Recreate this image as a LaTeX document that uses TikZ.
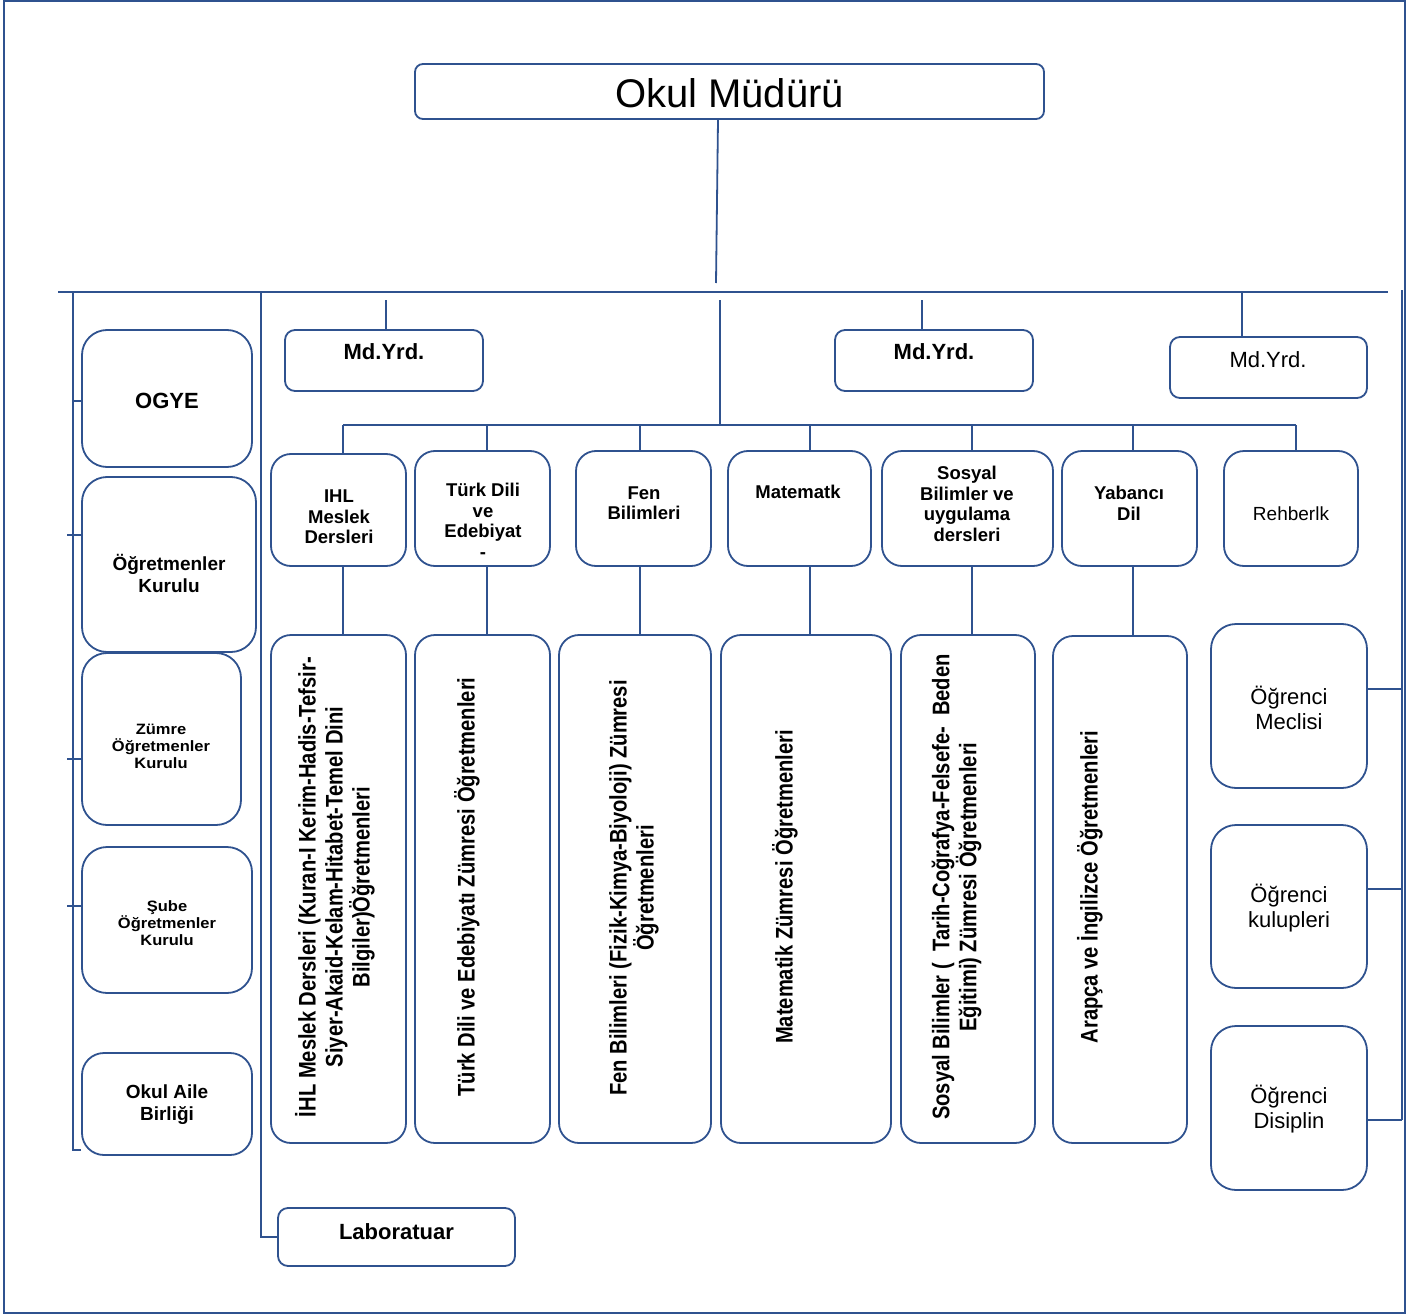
\documentclass[tikz,border=0pt]{standalone}
\usepackage{fontspec}
\setmainfont{Liberation Sans}
\newfontfamily\condfont{Liberation Sans}[FakeStretch=0.84]
\newfontfamily\widefont{Liberation Sans}[FakeStretch=1.1]
\definecolor{ln}{HTML}{2F528F}
\begin{document}
\begin{tikzpicture}[x=1pt,y=-1pt,
  rbox/.style={draw=ln, line width=1.8pt, rounded corners=#1, inner sep=0pt, fill=white},
  rbox/.default=20pt,
  lbl/.style={inner sep=0pt, align=center, text=black},
  conn/.style={draw=ln, line width=1.8pt},
  big/.style={font=\fontsize{40}{46}\selectfont},
  hb/.style={font=\bfseries\fontsize{22}{25}\selectfont},
  hr/.style={font=\fontsize{22}{25}\selectfont},
  mb/.style={font=\bfseries\fontsize{19}{22}\selectfont},
  wb/.style={font=\widefont\bfseries\fontsize{15}{17}\selectfont},
  db/.style={font=\bfseries\fontsize{18.5}{20.5}\selectfont},
  dr/.style={font=\fontsize{19}{22}\selectfont},
  vb/.style={rotate=90, font=\condfont\bfseries\fontsize{24}{27}\selectfont},
]
\useasboundingbox (0,0) rectangle (1419,1316);
\node[draw=ln, line width=1.8pt, inner sep=0pt, minimum width=1401pt, minimum height=1312pt] (frame) at (704.5,657) {};

% ---- top
\node[rbox=8pt, minimum width=629pt, minimum height=55pt] (mud) at (729.5,91.5) {};
\node[lbl, big] (mudT) at (729.5,93) {Okul Müdürü};

% bus coordinates
\coordinate (busL) at (58,292);
\coordinate (busR) at (1388,292);
\coordinate (mudEnd) at (716,283);
\coordinate (v1top) at (73,292);
\coordinate (v1bot) at (73,1150);
\coordinate (v2top) at (261,292);
\coordinate (v2bot) at (261,1237);
\coordinate (m1top) at (386,300);
\coordinate (m2top) at (922,300);
\coordinate (m3top) at (1242,292);
\coordinate (ctop) at (720,300);
\coordinate (cbot) at (720,425);
\coordinate (dL) at (343,425);
\coordinate (dR) at (1296,425);
\coordinate (rtop) at (1402,290);
\coordinate (rbot) at (1402,1120);

% ---- Md.Yrd
\node[rbox=10pt, minimum width=198pt, minimum height=61pt] (m1) at (384,360.5) {};
\node[lbl, hb] (m1T) at (384,352) {Md.Yrd.};
\node[rbox=10pt, minimum width=198pt, minimum height=61pt] (m2) at (934,360.5) {};
\node[lbl, hb] (m2T) at (934,352) {Md.Yrd.};
\node[rbox=10pt, minimum width=197pt, minimum height=61pt] (m3) at (1268.5,367.5) {};
\node[lbl, hr] (m3T) at (1268,360) {Md.Yrd.};

% ---- left column
\node[rbox=25pt, minimum width=170pt, minimum height=137pt] (ogye) at (167,398.5) {};
\node[lbl, hb] (ogyeT) at (167,401) {OGYE};
\node[rbox=25pt, minimum width=174pt, minimum height=175pt] (ok) at (169,564.5) {};
\node[lbl, mb] (okT) at (169,573) {Öğretmenler\\Kurulu};
\node[rbox=25pt, minimum width=159pt, minimum height=172pt] (zok) at (161.5,739) {};
\node[lbl, wb] (zokT) at (161,746) {Zümre\\Öğretmenler\\Kurulu};
\node[rbox=25pt, minimum width=170pt, minimum height=146pt] (sok) at (167,920) {};
\node[lbl, wb] (sokT) at (167,923) {Şube\\Öğretmenler\\Kurulu};
\node[rbox=22pt, minimum width=170pt, minimum height=102pt] (oab) at (167,1104) {};
\node[lbl, mb] (oabT) at (167,1105) {Okul Aile\\Birliği};
\node[rbox=10pt, minimum width=237pt, minimum height=58pt] (lab) at (396.5,1237) {};
\node[lbl, hb] (labT) at (396.5,1232) {Laboratuar};

% ---- department boxes
\node[rbox=20pt, minimum width=135pt, minimum height=112pt] (d1) at (338.5,510) {};
\node[lbl, db] (d1T) at (339,517) {IHL\\Meslek\\Dersleri};
\node[rbox=20pt, minimum width=135pt, minimum height=115pt] (d2) at (482.5,508.5) {};
\node[lbl, db] (d2T) at (483,521) {Türk Dili\\ve\\Edebiyat\\-};
\node[rbox=20pt, minimum width=135pt, minimum height=115pt] (d3) at (643.5,508.5) {};
\node[lbl, db] (d3T) at (644,503) {Fen\\Bilimleri};
\node[rbox=20pt, minimum width=143pt, minimum height=115pt] (d4) at (799.5,508.5) {};
\node[lbl, db] (d4T) at (798,492) {Matematk};
\node[rbox=20pt, minimum width=171pt, minimum height=115pt] (d5) at (967.5,508.5) {};
\node[lbl, db] (d5T) at (967,504) {Sosyal\\Bilimler ve\\uygulama\\dersleri};
\node[rbox=20pt, minimum width=135pt, minimum height=115pt] (d6) at (1129.5,508.5) {};
\node[lbl, db] (d6T) at (1129,503.5) {Yabancı\\Dil};
\node[rbox=20pt, minimum width=134pt, minimum height=115pt] (d7) at (1291,508.5) {};
\node[lbl, dr] (d7T) at (1291,514) {Rehberlk};

% ---- teacher boxes
\node[rbox=20pt, minimum width=135pt, minimum height=508pt] (t1) at (338.5,889) {};
\node[lbl, vb] (t1T) at (335,887) {İHL Meslek Dersleri (Kuran-I Kerim-Hadis-Tefsir-\\Siyer-Akaid-Kelam-Hitabet-Temel Dini\\Bilgiler)Öğretmenleri};
\node[rbox=20pt, minimum width=135pt, minimum height=508pt] (t2) at (482.5,889) {};
\node[lbl, vb] (t2T) at (467,887) {Türk Dili ve Edebiyatı Zümresi Öğretmenleri};
\node[rbox=20pt, minimum width=152pt, minimum height=508pt] (t3) at (635,889) {};
\node[lbl, vb] (t3T) at (634,888) {Fen Bilimleri (Fizik-Kimya-Biyoloji) Zümresi\\Öğretmenleri};
\node[rbox=20pt, minimum width=170pt, minimum height=508pt] (t4) at (806,889) {};
\node[lbl, vb] (t4T) at (785,887) {Matematik Zümresi Öğretmenleri};
\node[rbox=20pt, minimum width=134pt, minimum height=508pt] (t5) at (968,889) {};
\node[lbl, vb] (t5T) at (956.5,887) {Sosyal Bilimler (\ \ Tarih-Coğrafya-Felsefe-\ \ Beden\\Eğitimi) Zümresi Öğretmenleri};
\node[rbox=20pt, minimum width=134pt, minimum height=507pt] (t6) at (1120,889.5) {};
\node[lbl, vb] (t6T) at (1090,887) {Arapça ve İngilizce Öğretmenleri};

% ---- right column
\node[rbox=25pt, minimum width=156pt, minimum height=164pt] (r1) at (1289,706) {};
\node[lbl, hr] (r1T) at (1289,708) {Öğrenci\\Meclisi};
\node[rbox=25pt, minimum width=156pt, minimum height=163pt] (r2) at (1289,906.5) {};
\node[lbl, hr] (r2T) at (1289,908) {Öğrenci\\kulupleri};
\node[rbox=25pt, minimum width=156pt, minimum height=164pt] (r3) at (1289,1108) {};
\node[lbl, hr] (r3T) at (1289,1109) {Öğrenci\\Disiplin};

% ---- connectors
\draw[conn] (mud.south -| 718,0) -- (mudEnd);
\draw[conn] (busL) -- (busR);
\draw[conn] (v1top) -- (v1bot) -- (v1bot -| oab.west);
\draw[conn] (v1top |- ogyeT) -- (ogye.west |- ogyeT);
\draw[conn] ([xshift=-6pt]v1top |- 0,535) -- (ok.west |- 0,535);
\draw[conn] ([xshift=-6pt]v1top |- 0,759) -- (zok.west |- 0,759);
\draw[conn] ([xshift=-6pt]v1top |- 0,906) -- (sok.west |- 0,906);
\draw[conn] (v2top) -- (v2bot) -- (lab.west |- v2bot);
\draw[conn] (m1top) -- (m1top |- m1.north);
\draw[conn] (m2top) -- (m2top |- m2.north);
\draw[conn] (m3top) -- (m3top |- m3.north);
\draw[conn] (ctop) -- (cbot);
\draw[conn] (dL) -- (dR);
\foreach \x/\d/\t in {343/d1/t1, 487/d2/t2, 640/d3/t3, 810/d4/t4, 972/d5/t5, 1133/d6/t6}{
  \draw[conn] (\x,425) -- (\x,425 |- \d.north);
  \draw[conn] (\x,425 |- \d.south) -- (\x,425 |- \t.north);
}
\draw[conn] (1296,425) -- (1296,425 |- d7.north);
\draw[conn] (rtop) -- (rbot);
\draw[conn] (r1.east |- 0,689) -- (rtop |- 0,689);
\draw[conn] (r2.east |- 0,889) -- (rtop |- 0,889);
\draw[conn] (r3.east |- rbot) -- (rbot);
\end{tikzpicture}
\end{document}
